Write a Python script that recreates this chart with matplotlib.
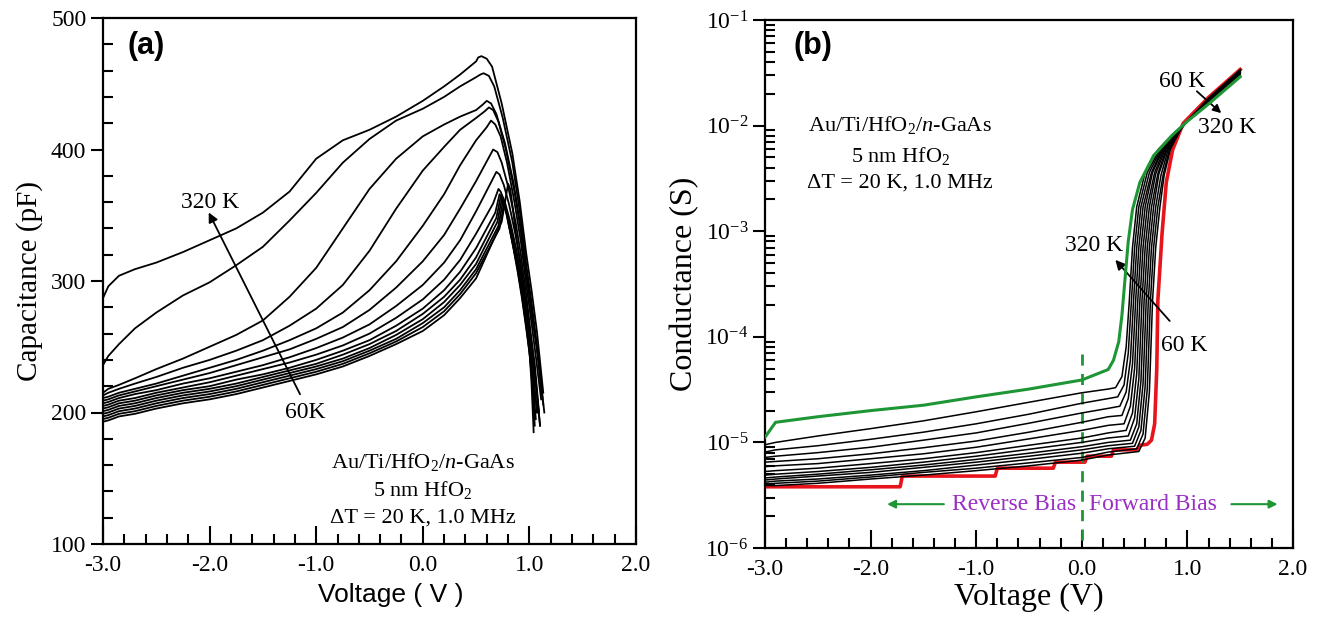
import numpy as np
import matplotlib
matplotlib.use("Agg")
import matplotlib.pyplot as plt
from matplotlib.ticker import MultipleLocator, LogLocator, NullFormatter, FixedLocator

plt.rcParams['font.family'] = 'Liberation Serif'
plt.rcParams['mathtext.fontset'] = 'custom'
plt.rcParams['mathtext.rm'] = 'Liberation Serif'
plt.rcParams['mathtext.it'] = 'Liberation Serif:italic'

# ---------------- data: (a) C-V, curves ordered 320 K -> 60 K ----------------
temps = [320, 300, 280, 260, 240, 220, 200, 180, 160, 140, 120, 100, 80, 60]

v_rise = [-3.0, -2.95, -2.85, -2.7, -2.5, -2.25, -2.0, -1.75, -1.5, -1.25,
          -1.0, -0.75, -0.5, -0.25, 0.0, 0.2, 0.35, 0.5]
cap_rise = [
    [287, 296, 304, 309, 314, 322, 331, 340, 352, 368, 393, 407, 415, 425, 437, 448, 457, 467],
    [236, 243, 252, 264, 276, 289, 299, 312, 326, 346, 367, 390, 408, 422, 431, 440, 448, 455],
    [215, 218, 221, 226, 233, 241, 250, 259, 270, 288, 310, 340, 370, 393, 410, 419, 425, 430],
    [213, 215, 218, 222, 227, 234, 240, 247, 255, 266, 279, 297, 323, 355, 384, 402, 415, 424],
    [211, 212, 215, 218, 222, 228, 234, 240, 247, 255, 264, 276, 293, 315, 342, 366, 388, 407],
    [209, 210, 213, 216, 220, 225, 230, 236, 242, 248, 256, 265, 278, 295, 315, 335, 355, 376],
    [207, 208, 211, 214, 217, 222, 226, 231, 236, 242, 249, 257, 267, 281, 297, 314, 331, 353],
    [205, 206, 209, 211, 215, 219, 223, 228, 233, 238, 244, 251, 260, 272, 286, 301, 316, 336],
    [203, 204, 207, 209, 213, 217, 220, 225, 229, 234, 240, 247, 255, 266, 279, 293, 307, 325],
    [201, 202, 205, 207, 211, 215, 218, 222, 227, 232, 237, 244, 252, 262, 275, 288, 301, 318],
    [199, 200, 203, 205, 209, 213, 216, 220, 225, 230, 235, 241, 249, 259, 271, 284, 297, 313],
    [197, 198, 201, 203, 207, 211, 214, 218, 223, 228, 233, 239, 247, 256, 268, 280, 293, 309],
    [195, 196, 199, 201, 205, 209, 212, 216, 221, 226, 231, 237, 245, 254, 265, 277, 290, 306],
    [193, 194, 197, 199, 203, 207, 210, 214, 219, 224, 229, 235, 243, 252, 262, 274, 287, 302],
]
pre_v = [0.52, 0.54, 0.56, 0.58, 0.60, 0.62, 0.64, 0.66, 0.68, 0.69, 0.70, 0.71, 0.72, 0.74]
pre_c = [470, 457, 434, 429, 417, 394, 375, 359, 352, 348, 345, 342, 340, 345]
tail_v = [
    [0.55, 0.60, 0.65, 0.74, 0.84, 0.91, 0.97, 1.02, 1.07, 1.13],
    [0.57, 0.62, 0.67, 0.75, 0.84, 0.91, 0.97, 1.02, 1.06, 1.12],
    [0.60, 0.64, 0.69, 0.77, 0.85, 0.91, 0.97, 1.02, 1.07, 1.13],
    [0.62, 0.66, 0.71, 0.78, 0.86, 0.92, 0.98, 1.03, 1.08, 1.14],
    [0.64, 0.68, 0.73, 0.79, 0.86, 0.92, 0.97, 1.02, 1.06, 1.11],
    [0.66, 0.70, 0.74, 0.80, 0.87, 0.92, 0.97, 1.01, 1.05, 1.09],
    [0.69, 0.72, 0.76, 0.81, 0.87, 0.92, 0.97, 1.01, 1.05, 1.10],
    [0.71, 0.73, 0.77, 0.82, 0.88, 0.92, 0.96, 1.00, 1.04, 1.07],
    [0.72, 0.74, 0.78, 0.83, 0.88, 0.92, 0.96, 1.00, 1.03, 1.06],
    [0.73, 0.75, 0.79, 0.83, 0.88, 0.92, 0.96, 1.00, 1.03, 1.05],
    [0.74, 0.76, 0.79, 0.84, 0.89, 0.93, 0.97, 1.00, 1.02, 1.04],
    [0.75, 0.77, 0.80, 0.84, 0.89, 0.93, 0.97, 1.00, 1.03, 1.05],
    [0.76, 0.78, 0.80, 0.85, 0.89, 0.93, 0.97, 1.01, 1.04, 1.08],
    [0.80, 0.82, 0.84, 0.87, 0.91, 0.95, 0.98, 1.02, 1.06, 1.10],
]
tail_c = [
    [471, 469, 463, 435, 397, 360, 321, 293, 262, 215],
    [458, 456, 448, 424, 390, 353, 313, 284, 258, 212],
    [437, 435, 427, 405, 375, 345, 307, 278, 250, 206],
    [432, 430, 421, 400, 368, 338, 300, 270, 243, 200],
    [422, 419, 410, 390, 360, 330, 298, 268, 243, 210],
    [400, 398, 390, 372, 345, 320, 290, 262, 237, 200],
    [383, 381, 373, 358, 335, 312, 283, 258, 232, 190],
    [370, 368, 360, 345, 323, 305, 282, 258, 228, 200],
    [366, 364, 355, 338, 318, 300, 278, 254, 226, 195],
    [364, 361, 351, 336, 315, 297, 275, 251, 223, 190],
    [362, 359, 349, 330, 310, 290, 268, 248, 222, 185],
    [360, 357, 347, 330, 309, 289, 266, 246, 220, 195],
    [358, 355, 345, 325, 307, 287, 264, 240, 218, 200],
    [374, 370, 358, 338, 316, 292, 270, 246, 222, 190],
]

# ---------------- data: (b) G-V (S), curves ordered 320 K -> 80 K ----------------
v_rev = [-3.0, -2.9, -2.5, -2.0, -1.5, -1.0, -0.5, 0.0, 0.25]
g_rev = [  # units of 1e-6 S
    [11.2, 15.5, 17.5, 20.0, 22.5, 27.0, 32.0, 39.0, 49.0],
    [9.5, 10.0, 11.5, 13.5, 16.0, 19.5, 24.0, 29.5, 32.0],
    [8.1, 8.5, 9.3, 10.7, 12.5, 15.0, 18.5, 23.5, 26.0],
    [7.2, 7.4, 8.0, 9.0, 10.5, 12.3, 15.2, 19.0, 21.0],
    [6.5, 6.6, 7.0, 7.8, 8.9, 10.3, 12.5, 15.5, 17.5],
    [5.9, 6.0, 6.3, 7.0, 7.8, 9.0, 10.8, 13.0, 14.5],
    [5.3, 5.4, 5.7, 6.3, 7.0, 8.0, 9.4, 11.0, 12.3],
    [4.9, 5.0, 5.3, 5.8, 6.5, 7.4, 8.6, 10.0, 11.0],
    [4.6, 4.7, 5.0, 5.5, 6.1, 6.9, 7.9, 9.1, 10.0],
    [4.4, 4.5, 4.8, 5.2, 5.8, 6.5, 7.4, 8.5, 9.3],
    [4.2, 4.3, 4.5, 4.9, 5.4, 6.1, 6.9, 7.9, 8.7],
    [4.0, 4.1, 4.3, 4.7, 5.2, 5.7, 6.4, 7.2, 8.1],
    [3.9, 3.9, 4.1, 4.5, 4.9, 5.4, 6.0, 6.8, 7.6],
]
# 60 K curve (red) is a staircase in reverse bias
v_rev_60 = [-3.0, -1.72, -1.70, -0.82, -0.80, -0.27, -0.25, 0.03, 0.05, 0.28, 0.30, 0.52, 0.55]
g_rev_60 = [3.8, 3.8, 4.8, 4.8, 5.7, 5.7, 6.5, 6.5, 7.4, 7.4, 8.5, 8.5, 9.4]

v_fwd = [
    [0.30, 0.35, 0.38, 0.41, 0.44, 0.48, 0.55, 0.68, 0.85, 1.00, 1.20, 1.50],
    [0.32, 0.38, 0.42, 0.45, 0.48, 0.52, 0.60, 0.72, 0.88, 1.00, 1.20, 1.50],
    [0.34, 0.40, 0.44, 0.47, 0.50, 0.54, 0.62, 0.74, 0.89, 1.00, 1.20, 1.50],
    [0.36, 0.42, 0.46, 0.49, 0.52, 0.56, 0.64, 0.75, 0.90, 1.00, 1.20, 1.50],
    [0.38, 0.44, 0.48, 0.51, 0.54, 0.58, 0.66, 0.76, 0.90, 1.00, 1.20, 1.50],
    [0.40, 0.46, 0.50, 0.53, 0.56, 0.60, 0.67, 0.77, 0.91, 1.00, 1.20, 1.50],
    [0.42, 0.48, 0.52, 0.55, 0.58, 0.62, 0.69, 0.78, 0.91, 1.00, 1.20, 1.50],
    [0.44, 0.50, 0.54, 0.57, 0.60, 0.64, 0.70, 0.79, 0.92, 1.00, 1.20, 1.50],
    [0.46, 0.52, 0.56, 0.59, 0.62, 0.66, 0.72, 0.80, 0.92, 1.00, 1.20, 1.50],
    [0.48, 0.54, 0.58, 0.61, 0.64, 0.68, 0.73, 0.81, 0.93, 1.00, 1.20, 1.50],
    [0.50, 0.56, 0.60, 0.63, 0.66, 0.70, 0.75, 0.82, 0.93, 1.00, 1.20, 1.50],
    [0.52, 0.58, 0.62, 0.65, 0.68, 0.72, 0.77, 0.83, 0.94, 1.00, 1.20, 1.50],
    [0.54, 0.60, 0.64, 0.67, 0.70, 0.74, 0.78, 0.84, 0.94, 1.00, 1.20, 1.50],
    [0.62, 0.66, 0.69, 0.71, 0.72, 0.76, 0.80, 0.86, 0.96, 1.20, 1.50],
]
g_fwd = [
    [6e-5, 9e-5, 1.6e-4, 3.6e-4, 8e-4, 1.6e-3, 2.9e-3, 5.2e-3, 8.0e-3, 1.1e-2, 1.6e-2, 2.9e-2],
    [3.3e-5, 4.2e-5, 8e-5, 2.2e-4, 7e-4, 1.7e-3, 3.6e-3, 5.9e-3, 8.6e-3, 1.1e-2, 1.66e-2, 3.0e-2],
    [2.7e-5, 3.5e-5, 7e-5, 2.2e-4, 7e-4, 1.7e-3, 3.6e-3, 6.0e-3, 8.7e-3, 1.1e-2, 1.68e-2, 3.05e-2],
    [2.2e-5, 3.0e-5, 6e-5, 2.2e-4, 7e-4, 1.7e-3, 3.6e-3, 6.0e-3, 8.8e-3, 1.1e-2, 1.7e-2, 3.1e-2],
    [1.8e-5, 2.6e-5, 5.5e-5, 2.2e-4, 7e-4, 1.7e-3, 3.6e-3, 6.0e-3, 8.8e-3, 1.1e-2, 1.7e-2, 3.15e-2],
    [1.5e-5, 2.2e-5, 5e-5, 2.2e-4, 7e-4, 1.7e-3, 3.6e-3, 6.0e-3, 8.9e-3, 1.1e-2, 1.72e-2, 3.2e-2],
    [1.3e-5, 1.9e-5, 4.5e-5, 2.2e-4, 7e-4, 1.7e-3, 3.6e-3, 6.0e-3, 8.9e-3, 1.1e-2, 1.73e-2, 3.22e-2],
    [1.15e-5, 1.7e-5, 4e-5, 2.2e-4, 7e-4, 1.7e-3, 3.5e-3, 6.0e-3, 9.0e-3, 1.1e-2, 1.75e-2, 3.25e-2],
    [1.05e-5, 1.5e-5, 3.8e-5, 2.2e-4, 7e-4, 1.7e-3, 3.5e-3, 6.0e-3, 9.0e-3, 1.1e-2, 1.76e-2, 3.28e-2],
    [9.8e-6, 1.4e-5, 3.6e-5, 2.2e-4, 7e-4, 1.7e-3, 3.5e-3, 6.0e-3, 9.1e-3, 1.1e-2, 1.78e-2, 3.3e-2],
    [9.2e-6, 1.3e-5, 3.4e-5, 2.2e-4, 7e-4, 1.7e-3, 3.4e-3, 6.0e-3, 9.2e-3, 1.1e-2, 1.8e-2, 3.33e-2],
    [8.7e-6, 1.2e-5, 3.2e-5, 2.2e-4, 7e-4, 1.7e-3, 3.4e-3, 6.0e-3, 9.3e-3, 1.1e-2, 1.8e-2, 3.36e-2],
    [8.2e-6, 1.1e-5, 3e-5, 2.2e-4, 7e-4, 1.7e-3, 3.4e-3, 6.0e-3, 9.4e-3, 1.1e-2, 1.82e-2, 3.38e-2],
    [9.6e-6, 1.05e-5, 1.5e-5, 5e-5, 2.2e-4, 9.5e-4, 2.9e-3, 5.9e-3, 1.05e-2, 1.85e-2, 3.4e-2],
]

GREEN = '#1e9636'
RED = '#e8141c'
PURPLE = '#9a2fc4'

fig = plt.figure(figsize=(13.2, 6.21), dpi=100)
ax1 = fig.add_axes([103 / 1320, 1 - 544 / 621, 533 / 1320, 526 / 621])
ax2 = fig.add_axes([765 / 1320, 1 - 548 / 621, 528 / 1320, 528 / 621])

# ---- panel (a)
for i in range(len(temps)):
    v = v_rise + [pre_v[i]] + tail_v[i]
    c = cap_rise[i] + [pre_c[i]] + tail_c[i]
    ax1.plot(v, c, color='black', lw=1.3)

ax1.set_xlim(-3.0, 2.0)
ax1.set_ylim(100, 500)
ax1.set_xticks(np.arange(-3, 2.01, 1.0))
ax1.set_xticklabels(['%.1f' % t for t in np.arange(-3, 2.01, 1.0)])
ax1.xaxis.set_minor_locator(MultipleLocator(0.2))
ax1.yaxis.set_major_locator(MultipleLocator(100))
ax1.yaxis.set_minor_locator(MultipleLocator(20))
ax1.set_xlabel('Voltage ( V )', family='Liberation Sans', fontsize=19, labelpad=4)
ax1.xaxis.set_label_coords(0.54, -0.075)
ax1.set_ylabel('Capacitance (pF)', fontsize=21, labelpad=6)

ax1.annotate('', xy=(-2.02, 354), xytext=(-1.14, 212),
             arrowprops=dict(arrowstyle='-|>', color='black', lw=1.3, mutation_scale=14))
ax1.text(-2.0, 360, '320 K', fontsize=17, ha='center', va='center')
ax1.text(-1.1, 200, '60K', fontsize=17, ha='center', va='center')
ax1.text(-2.6, 479, '(a)', family='Liberation Sans', fontweight='bold', fontsize=22,
         ha='center', va='center')
ax1.text(0.0, 162, 'Au/Ti/HfO$_2$/$n$-GaAs', fontsize=16, ha='center', va='center')
ax1.text(0.0, 141, '5 nm HfO$_2$', fontsize=16, ha='center', va='center')
ax1.text(0.0, 120, '\u0394T = 20 K, 1.0 MHz', fontsize=16, ha='center', va='center')

# ---- panel (b)
n = len(temps)
for i in range(n):
    if i == n - 1:
        v = v_rev_60 + v_fwd[i]
        g = [x * 1e-6 for x in g_rev_60] + g_fwd[i]
        ax2.plot(v, g, color=RED, lw=2.6, zorder=1)
        continue
    v = v_rev + v_fwd[i]
    g = [x * 1e-6 for x in g_rev[i]] + g_fwd[i]
    if i == 0:
        ax2.plot(v, g, color=GREEN, lw=2.2, zorder=4)
    else:
        ax2.plot(v, g, color='black', lw=1.1, zorder=3)

ax2.set_yscale('log')
ax2.set_xlim(-3.0, 2.0)
ax2.set_ylim(1e-6, 1e-1)
ax2.set_xticks(np.arange(-3, 2.01, 1.0))
ax2.set_xticklabels(['%.1f' % t for t in np.arange(-3, 2.01, 1.0)])
ax2.xaxis.set_minor_locator(MultipleLocator(0.2))
ax2.yaxis.set_major_locator(FixedLocator([1e-6, 1e-5, 1e-4, 1e-3, 1e-2, 1e-1]))
ax2.set_yticklabels(['$10^{-6}$', '$10^{-5}$', '$10^{-4}$', '$10^{-3}$', '$10^{-2}$', '$10^{-1}$'])
ax2.yaxis.set_minor_locator(LogLocator(base=10, subs=np.arange(2, 10)))
ax2.yaxis.set_minor_formatter(NullFormatter())
ax2.set_xlabel('Voltage (V)', fontsize=23, labelpad=2)
ax2.set_ylabel('Conductance (S)', fontsize=23, labelpad=4)

ax2.plot([0, 0], [6.8e-5, 1e-6], color=GREEN, lw=2, ls=(0, (4, 3)))
ax2.text(-0.05, 2.6e-6, 'Reverse Bias', color=PURPLE, fontsize=17, ha='right', va='center')
ax2.text(0.07, 2.6e-6, 'Forward Bias', color=PURPLE, fontsize=17, ha='left', va='center')
ax2.annotate('', xy=(-1.87, 2.6e-6), xytext=(-1.28, 2.6e-6),
             arrowprops=dict(arrowstyle='-|>', color=GREEN, lw=1.5, mutation_scale=12))
ax2.annotate('', xy=(1.88, 2.6e-6), xytext=(1.39, 2.6e-6),
             arrowprops=dict(arrowstyle='-|>', color=GREEN, lw=1.5, mutation_scale=12))

ax2.annotate('', xy=(0.30, 5.6e-4), xytext=(0.85, 1.35e-4),
             arrowprops=dict(arrowstyle='-|>', color='black', lw=1.3, mutation_scale=14))
ax2.text(0.12, 7.4e-4, '320 K', fontsize=17, ha='center', va='center')
ax2.text(0.97, 8.3e-5, '60 K', fontsize=17, ha='center', va='center')
ax2.annotate('', xy=(1.34, 1.26e-2), xytext=(1.07, 2.2e-2),
             arrowprops=dict(arrowstyle='-|>', color='black', lw=1.3, mutation_scale=12))
ax2.text(0.95, 2.6e-2, '60 K', fontsize=17, ha='center', va='center')
ax2.text(1.38, 9.5e-3, '320 K', fontsize=17, ha='center', va='center')
ax2.text(-2.55, 5.7e-2, '(b)', family='Liberation Sans', fontweight='bold', fontsize=22,
         ha='center', va='center')
ax2.text(-1.72, 1.02e-2, 'Au/Ti/HfO$_2$/$n$-GaAs', fontsize=16, ha='center', va='center')
ax2.text(-1.72, 5.2e-3, '5 nm HfO$_2$', fontsize=16, ha='center', va='center')
ax2.text(-1.72, 2.85e-3, '\u0394T = 20 K, 1.0 MHz', fontsize=16, ha='center', va='center')

for ax in (ax1, ax2):
    for sp in ax.spines.values():
        sp.set_linewidth(1.6)
    ax.tick_params(axis='x', which='major', direction='in', length=13, width=1.5,
                   labelsize=17, pad=8, top=False)
    ax.tick_params(axis='x', which='minor', direction='in', length=7, width=1.5, top=False)
    ax.tick_params(axis='y', which='major', direction='out', length=9, width=1.5,
                   labelsize=17, pad=3, right=False)
    ax.tick_params(axis='y', which='minor', direction='in', length=7, width=1.5, right=False)

fig.savefig('out.png', dpi=100)
